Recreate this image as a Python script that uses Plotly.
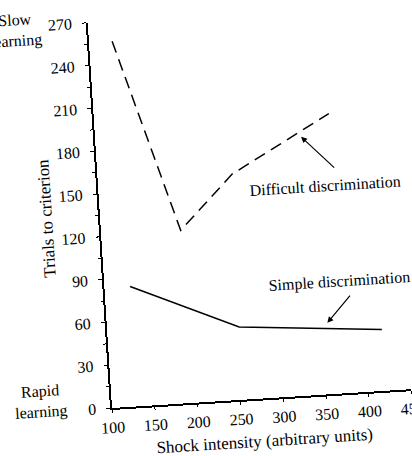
import plotly.graph_objects as go

# Shock intensity (arbitrary units) vs trials to criterion
difficult_x = [127, 193, 257, 374]
difficult_y = [256, 121, 158, 196]
simple_x = [130, 254, 420]
simple_y = [84, 51, 43]

x_ticks = [100, 150, 200, 250, 300, 350, 400, 450]
y_ticks = [0, 30, 60, 90, 120, 150, 180, 210, 240, 270]

FONT = "Liberation Serif, Times New Roman, serif"
TILT = -3.6  # the scanned figure is slightly rotated

fig = go.Figure()

fig.add_trace(go.Scatter(
    x=difficult_x, y=difficult_y, mode="lines",
    line=dict(color="black", width=1.5, dash="12px,7px"),
    name="Difficult discrimination",
))
fig.add_trace(go.Scatter(
    x=simple_x, y=simple_y, mode="lines",
    line=dict(color="black", width=1.5),
    name="Simple discrimination",
))

# labels with arrows pointing at each curve
fig.add_annotation(x=340, y=181, ax=378, ay=157, xref="x", yref="y",
                   axref="x", ayref="y", text="", showarrow=True,
                   arrowhead=2, arrowsize=1, arrowwidth=1.2, arrowcolor="black")
fig.add_annotation(x=357, y=50, ax=387, ay=69, xref="x", yref="y",
                   axref="x", ayref="y", text="", showarrow=True,
                   arrowhead=2, arrowsize=1, arrowwidth=1.2, arrowcolor="black")
fig.add_annotation(x=364, y=146, xref="x", yref="y", text="Difficult discrimination",
                   showarrow=False, font=dict(size=16))
fig.add_annotation(x=374, y=78, xref="x", yref="y", text="Simple discrimination",
                   showarrow=False, font=dict(size=16))

# side notes
fig.add_annotation(x=0, y=1, xref="paper", yref="paper", xanchor="center",
                   yanchor="middle", text="Slow<br>learning", showarrow=False,
                   align="center", font=dict(size=16), xshift=-73, yshift=-3)
fig.add_annotation(x=0, y=0, xref="paper", yref="paper", xanchor="center",
                   yanchor="middle", text="Rapid<br>learning", showarrow=False,
                   align="center", font=dict(size=16), xshift=-71, yshift=11)

# axis titles
fig.add_annotation(x=0, y=0.5, xref="paper", yref="paper", xanchor="center",
                   yanchor="middle", text="Trials to criterion", textangle=-90,
                   showarrow=False, font=dict(size=17), xshift=-54)
fig.add_annotation(x=0.5, y=0, xref="paper", yref="paper", xanchor="center",
                   yanchor="middle", text="Shock intensity (arbitrary units)",
                   showarrow=False, font=dict(size=17), yshift=-42)

fig.update_xaxes(
    range=[100, 450], tickvals=x_ticks, showgrid=False, zeroline=False,
    showline=True, linecolor="black", linewidth=1.5,
    ticks="outside", ticklen=3, tickwidth=1.2, tickcolor="black",
    ticklabelstandoff=1, tickfont=dict(size=16),
)
fig.update_yaxes(
    range=[0, 270], tickvals=y_ticks, showgrid=False, zeroline=False,
    showline=True, linecolor="black", linewidth=1.5,
    ticks="outside", ticklen=4, tickwidth=1.2, tickcolor="black",
    ticklabelstandoff=7, tickfont=dict(size=16),
    minor=dict(tickvals=list(range(15, 270, 30)), ticks="outside",
               ticklen=3, tickwidth=1.2, tickcolor="black"),
)

# canvas is a little larger than the window so the tilted texts are not clipped
fig.update_layout(
    width=440, height=480,
    margin=dict(l=112, r=28, t=22, b=72),
    paper_bgcolor="white", plot_bgcolor="white",
    showlegend=False,
    font=dict(family=FONT, color="black", size=16),
)

tilt_js = (
    "var gd=document.getElementById('{plot_id}');"
    "gd.style.transformOrigin='112px 408px';"
    "gd.style.transform='rotate(%sdeg)';"
    "document.body.style.margin='0';"
    "document.body.style.overflow='hidden';" % TILT
)

fig.write_html("out.html", config={"displayModeBar": False}, post_script=tilt_js)
